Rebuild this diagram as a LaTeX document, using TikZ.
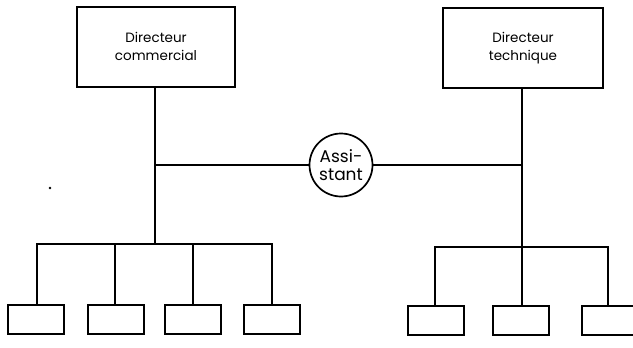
\documentclass[tikz,border=0pt]{standalone}
\usepackage{fontspec}
\setmainfont{Poppins}
\usepackage{tikz}
\usetikzlibrary{positioning,calc}

\tikzset{
  dirbox/.style={draw, line width=2pt, minimum width=158pt, minimum height=80pt,
    align=center, font=\fontsize{13.5}{17.5}\selectfont},
  unitbox/.style={draw, line width=2pt, minimum width=56pt, minimum height=29pt},
  assist/.style={draw, circle, line width=1.7pt, minimum size=63pt, inner sep=0pt,
    align=center, font=\fontsize{17}{18}\selectfont},
  link/.style={line width=1.7pt}
}

\begin{document}
\begin{tikzpicture}[x=1pt, y=-1pt]
    \useasboundingbox (0,0) rectangle (633,348);
    \clip (0,0) rectangle (633,348);

    % Directors and assistant
    \node[dirbox] (dcom) at (156,46.5) {Directeur\\commercial};
    \node[dirbox, minimum width=160pt] (dtech) at (523,48) {Directeur\\technique};
    \node[assist] (asst) at (341,165) {Assi-\\stant};

    % Trunks and bus lines
    \coordinate (lbus) at (155,244);
    \coordinate (rbus) at (522,247);
    \draw[link] (dcom.south -| lbus) -- (lbus);
    \draw[link] (dtech.south -| rbus) -- (rbus);
    \draw[link] (asst.west) -- (asst.west -| lbus);
    \draw[link] (asst.east) -- (asst.east -| rbus);

    % Units of the commercial director
    \foreach \i/\x in {1/36, 2/115.5, 3/193, 4/271.5}
      \node[unitbox] (cu\i) at (\x,319.5) {};
    \draw[link] (cu1.north -| 37,0) |- (lbus) -| (cu4.north -| 272,0);
    \foreach \i/\x in {2/115, 3/193}
      \draw[link] (cu\i.north -| \x,0) -- (lbus -| \x,0);

    % Units of the technical director
    \foreach \i/\x in {1/436, 2/521, 3/610}
      \node[unitbox] (tu\i) at (\x,320.5) {};
    \draw[link] (tu1.north -| 435,0) |- (rbus) -| (tu3.north -| 608,0);
    \draw[link] (tu2.north -| rbus) -- (rbus);

    % stray speck
    \fill (50,188) circle (1.4pt);
\end{tikzpicture}
\end{document}
